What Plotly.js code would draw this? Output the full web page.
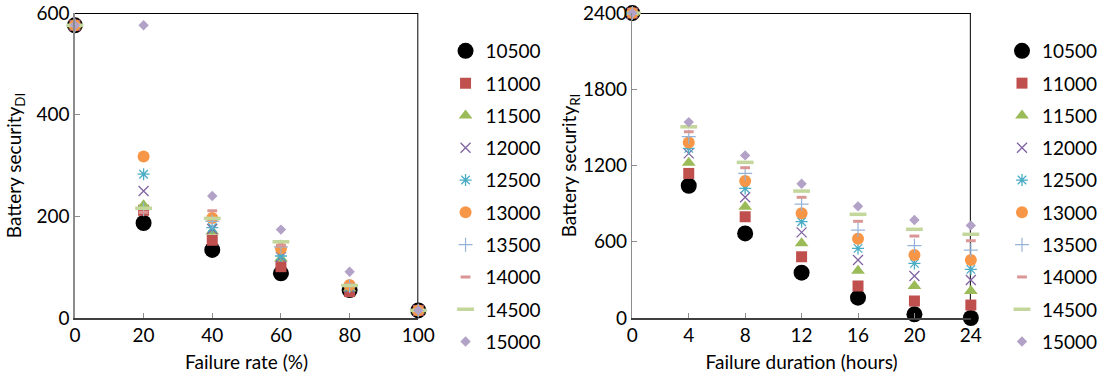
<!DOCTYPE html>
<html>
<head>
<meta charset="utf-8">
<script src="https://cdn.plot.ly/plotly-3.0.1.min.js"></script>
<style>
  html, body { margin: 0; padding: 0; background: #fff; }
  #chart { width: 1103px; height: 385px; }
</style>
</head>
<body>
<div id="chart"></div>
<script>
// Failure rate (%) and failure duration (hours) on the two x axes
const failureRate = [0, 20, 40, 60, 80, 100];
const failureHours = [0, 4, 8, 12, 16, 20, 24];

// Battery capacity levels, one series each
const seriesNames = ['10500', '11000', '11500', '12000', '12500', '13000', '13500', '14000', '14500', '15000'];

// Battery security (DI) against failure rate
const di10500 = [576, 187, 134, 88, 55, 15];
const di11000 = [576, 212, 153, 101, 52, 15];
const di11500 = [576, 222, 170, 117, 58, 15];
const di12000 = [576, 250, 175, 120, 60, 15];
const di12500 = [576, 283, 178, 122, 62, 15];
const di13000 = [576, 318, 197, 137, 65, 15];
const di13500 = [576, 214, 190, 140, 63, 15];
const di14000 = [576, 208, 211, 143, 66, 15];
const di14500 = [576, 216, 196, 150, 64, 15];
const di15000 = [576, 576, 240, 174, 91, 15];

// Battery security (RI) against failure duration
const ri10500 = [2400, 1041, 666, 357, 160, 29, 0];
const ri11000 = [2400, 1138, 797, 482, 252, 134, 102];
const ri11500 = [2400, 1222, 876, 588, 372, 252, 212];
const ri12000 = [2400, 1296, 950, 674, 456, 330, 299];
const ri12500 = [2400, 1335, 1020, 758, 548, 430, 383];
const ri13000 = [2400, 1382, 1078, 824, 624, 496, 456];
const ri13500 = [2400, 1427, 1138, 897, 692, 569, 535];
const ri14000 = [2400, 1466, 1183, 950, 761, 645, 608];
const ri14500 = [2400, 1505, 1225, 999, 816, 698, 659];
const ri15000 = [2400, 1542, 1280, 1057, 879, 771, 729];

const diSeries = [di10500, di11000, di11500, di12000, di12500, di13000, di13500, di14000, di14500, di15000];
const riSeries = [ri10500, ri11000, ri11500, ri12000, ri12500, ri13000, ri13500, ri14000, ri14500, ri15000];

// Marker style per series (Office-style palette)
const markerStyles = [
  { symbol: 'circle', size: 16, color: '#000000', line: { width: 0 } },
  { symbol: 'square', size: 11, color: '#C0504D', line: { width: 0 } },
  { symbol: 'triangle-up', size: 12, color: '#9BBB59', line: { width: 0 } },
  { symbol: 'x-thin-open', size: 10, color: '#8064A2', line: { width: 1.3 } },
  { symbol: 'asterisk-open', size: 10, color: '#4BACC6', line: { width: 1.3 } },
  { symbol: 'circle', size: 12, color: '#F79646', line: { width: 0 } },
  { symbol: 'cross-thin-open', size: 10, color: '#95B3D7', line: { width: 1.2 } },
  { symbol: 'line-ew-open', size: 7, color: '#D99694', line: { width: 3 } },
  { symbol: 'line-ew-open', size: 12, color: '#C3D69B', line: { width: 3.5 } },
  { symbol: 'diamond', size: 8, color: '#B2A2C7', line: { width: 0 } }
];

const FONT = 'Lato, "Open Sans", sans-serif';
const FS = 19;
const traces = [];

seriesNames.forEach((name, i) => {
  traces.push({
    type: 'scatter', mode: 'markers', name: name,
    x: failureRate, y: diSeries[i],
    xaxis: 'x', yaxis: 'y',
    marker: markerStyles[i], cliponaxis: false,
    legend: 'legend', legendgroup: 'di' + i
  });
});
seriesNames.forEach((name, i) => {
  traces.push({
    type: 'scatter', mode: 'markers', name: name,
    x: failureHours, y: riSeries[i],
    xaxis: 'x2', yaxis: 'y2',
    marker: markerStyles[i], cliponaxis: false,
    legend: 'legend2', legendgroup: 'ri' + i
  });
});

const yDomain = [0.174, 0.966];
const textFont = { family: FONT, size: FS, color: '#000' };
const axisCommon = {
  showgrid: false, zeroline: false,
  ticks: 'inside', ticklen: 5, tickcolor: '#8c8c8c',
  tickfont: textFont,
  fixedrange: true
};

const legendCommon = {
  font: textFont,
  bgcolor: 'rgba(0,0,0,0)', borderwidth: 0,
  tracegroupgap: 4.6, itemsizing: 'trace',
  xanchor: 'left', yanchor: 'top'
};

const diLast = di10500[di10500.length - 1];
const riLast = ri10500[ri10500.length - 1];
const diTop = 600, riTop = 2400;
const rateMax = failureRate[failureRate.length - 1];
const hourMax = failureHours[failureHours.length - 1];

const layout = {
  width: 1103, height: 385,
  margin: { l: 0, r: 0, t: 0, b: 0 },
  paper_bgcolor: '#fff', plot_bgcolor: '#fff',
  showlegend: true,
  xaxis: Object.assign({}, axisCommon, {
    domain: [77 / 1103, 430 / 1103], range: [0, 100],
    tickvals: failureRate, showline: true, linecolor: '#404040', linewidth: 1.5,
    title: { text: 'Failure rate (%)', font: textFont, standoff: 10 },
    anchor: 'y'
  }),
  yaxis: Object.assign({}, axisCommon, {
    domain: yDomain, range: [0, 600], tickvals: [0, 200, 400, 600],
    showline: true, linecolor: '#8c8c8c', linewidth: 1.5,
    title: { text: 'Battery security<sub>DI</sub>', font: textFont, standoff: 10 },
    anchor: 'x'
  }),
  xaxis2: Object.assign({}, axisCommon, {
    domain: [650 / 1103, 998 / 1103], range: [0, 24],
    tickvals: failureHours, showline: true, linecolor: '#404040', linewidth: 1.5,
    title: { text: 'Failure duration (hours)', font: textFont, standoff: 10 },
    anchor: 'y2'
  }),
  yaxis2: Object.assign({}, axisCommon, {
    domain: yDomain, range: [0, 2400], tickvals: [0, 600, 1200, 1800, 2400],
    showline: true, linecolor: '#8c8c8c', linewidth: 1.5,
    title: { text: 'Battery security<sub>RI</sub>', font: textFont, standoff: 1 },
    anchor: 'x2'
  }),
  legend: Object.assign({}, legendCommon, { x: 458 / 1103, y: 1 - 32 / 385 }),
  legend2: Object.assign({}, legendCommon, { x: 1030 / 1103, y: 1 - 32 / 385 }),
  shapes: [
    { type: 'line', xref: 'x', yref: 'y', x0: 0, y0: diTop, x1: rateMax, y1: diTop, line: { color: '#000', width: 2 }, layer: 'below' },
    { type: 'line', xref: 'x', yref: 'y', x0: rateMax, y0: diTop, x1: rateMax, y1: diLast, line: { color: '#000', width: 2 }, layer: 'below' },
    { type: 'line', xref: 'x2', yref: 'y2', x0: 0, y0: riTop, x1: hourMax, y1: riTop, line: { color: '#000', width: 2 }, layer: 'below' },
    { type: 'line', xref: 'x2', yref: 'y2', x0: hourMax, y0: riTop, x1: hourMax, y1: riLast, line: { color: '#000', width: 2 }, layer: 'below' }
  ]
};

Plotly.newPlot('chart', traces, layout, { displayModeBar: false, staticPlot: true });
</script>
</body>
</html>
